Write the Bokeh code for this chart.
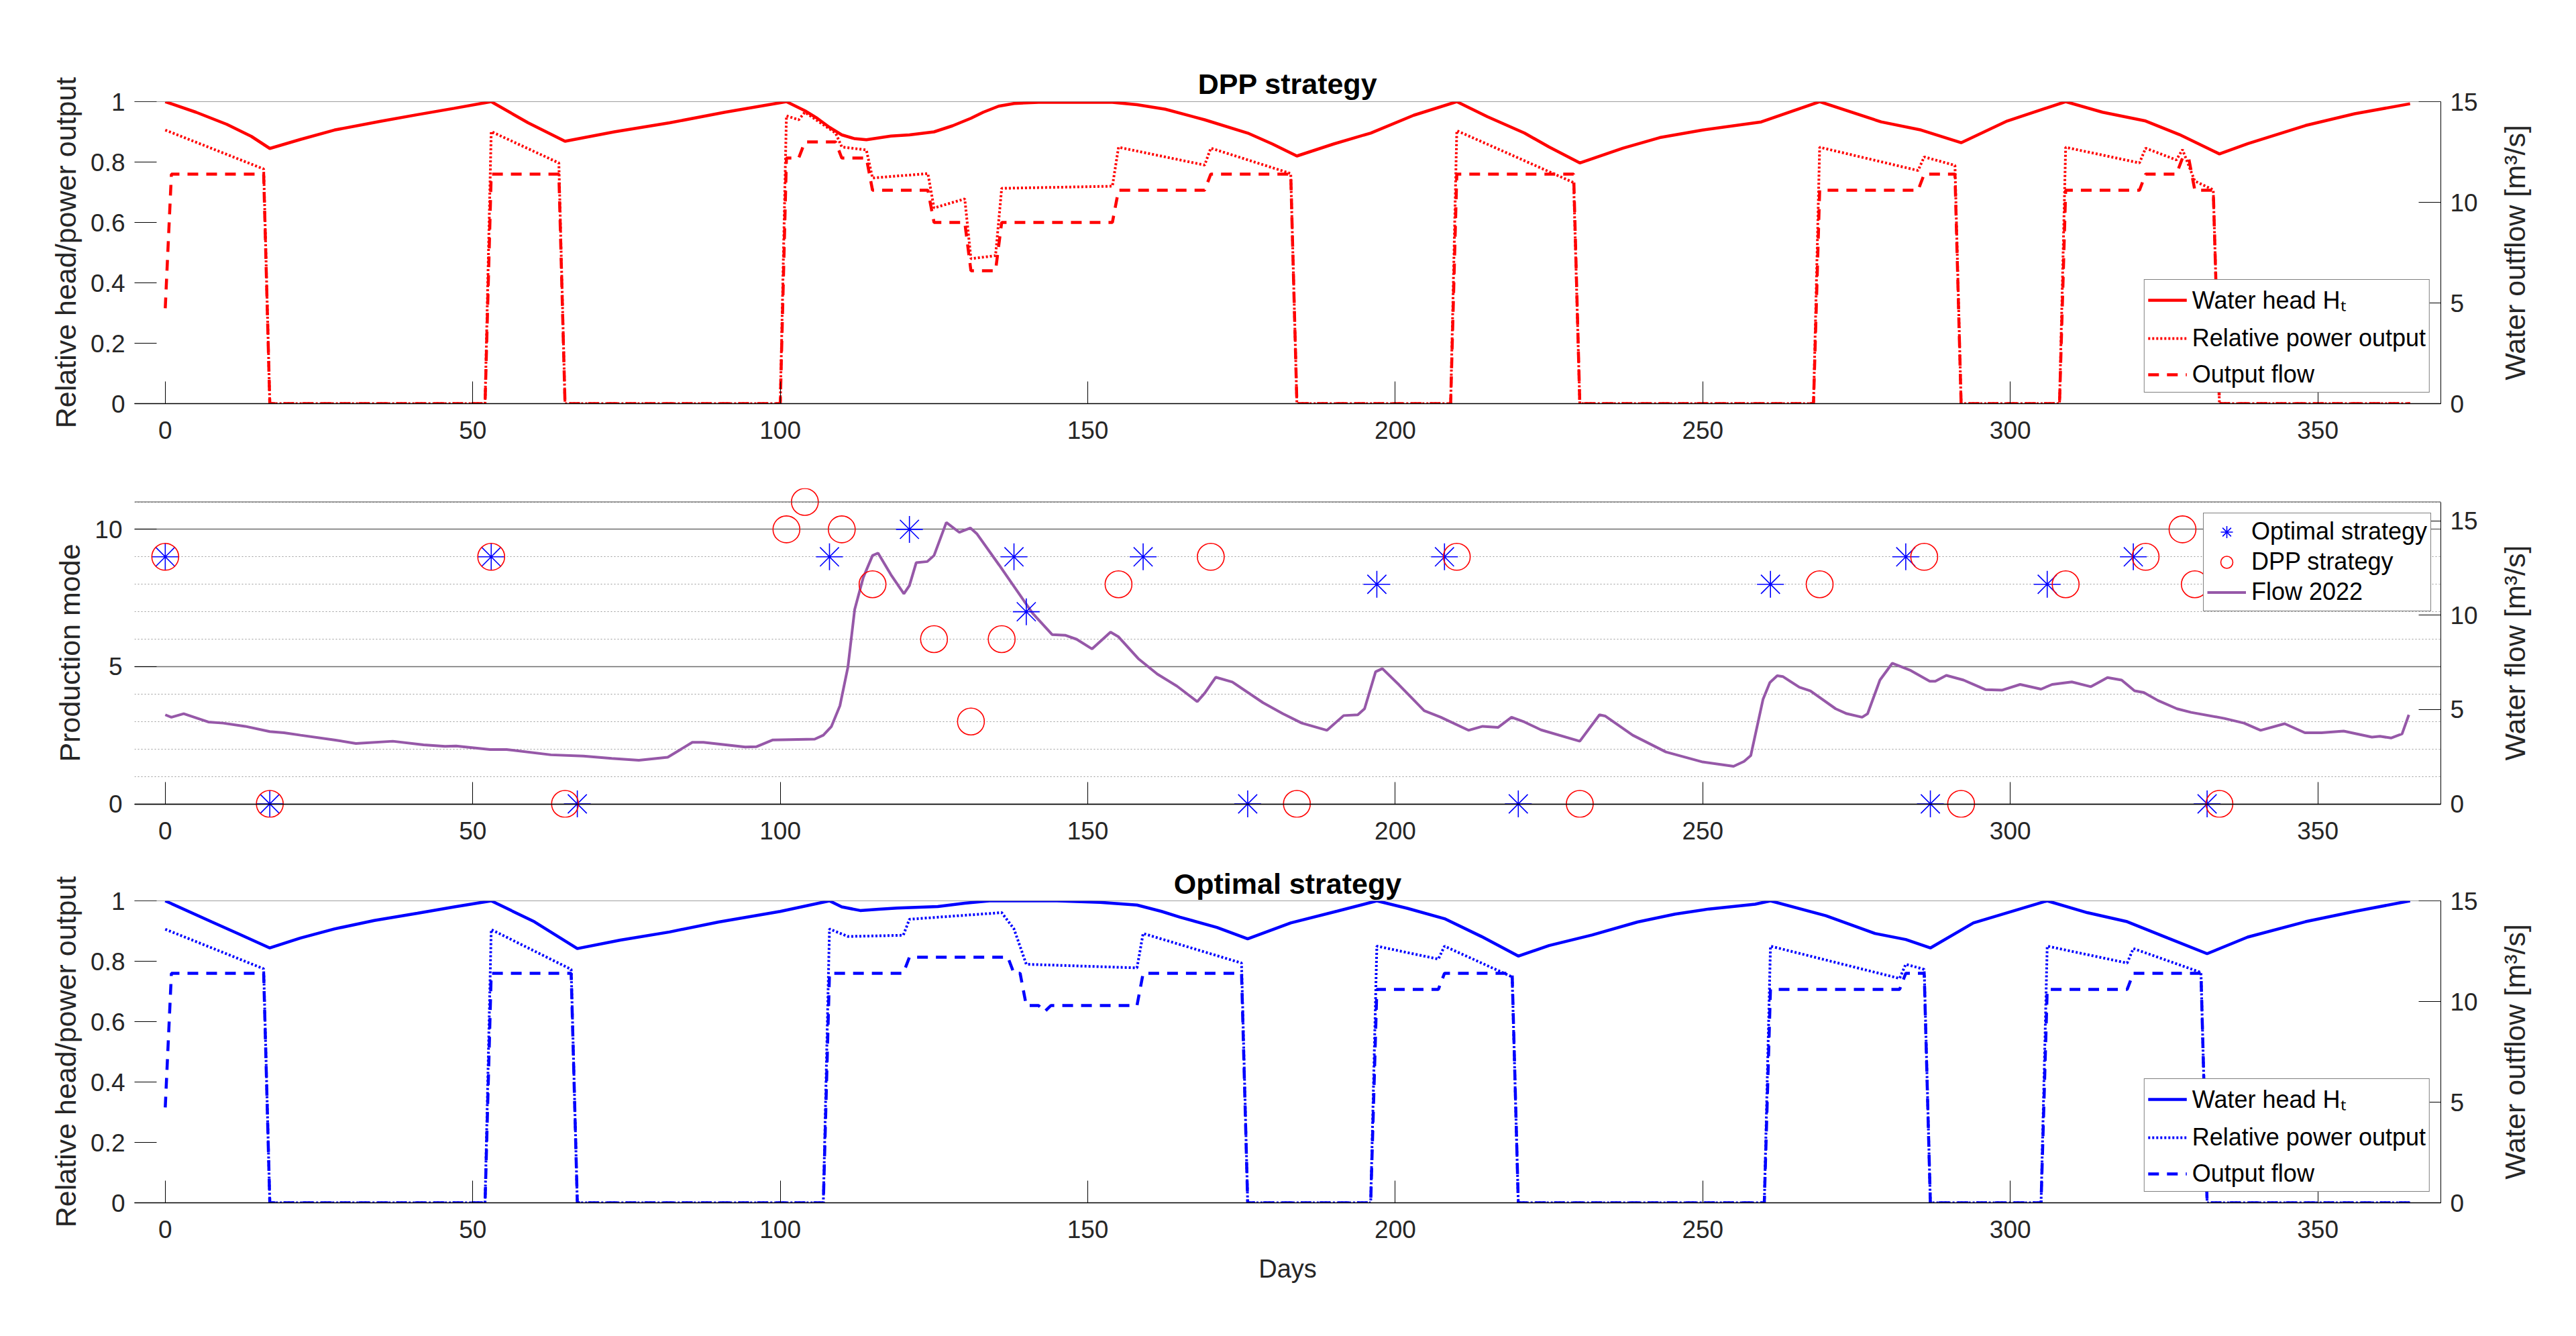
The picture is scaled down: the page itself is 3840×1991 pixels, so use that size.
import math
from bokeh.plotting import figure
from bokeh.models import (Range1d, LinearAxis, FixedTicker, NumeralTickFormatter,
                          Legend, LegendItem, Span, Title)
from bokeh.layouts import column, row
from bokeh.embed import file_html
from bokeh.resources import INLINE

FONT = "Liberation Sans"
TXT = "#262626"
RED = "#FF0000"
BLUE = "#0000FF"
PURPLE = "#9658A8"

# ---------------- axes / ticks ----------------
X_RANGE = (-5, 370)
X_TICKS = [0, 50, 100, 150, 200, 250, 300, 350]
REL_TICKS = [0, 0.2, 0.4, 0.6, 0.8, 1]
OUT_TICKS = [0, 5, 10, 15]
MODE_TICKS = [0, 5, 10]
MODE_MINOR = [0, 1, 2, 3, 4, 5, 6, 7, 8, 9, 10, 11]
FLOW_TICKS = [0, 5, 10, 15]

# ---------------- DPP strategy ----------------
dpp_head_day = [0, 5, 10, 14, 17, 22, 27.5, 35, 41, 47, 53, 59, 65, 73, 82, 91, 101,
                104, 106, 108, 110, 112, 114, 118, 121, 125, 128, 131, 133, 135.5, 138,
                142, 154, 158, 162.6, 169, 176, 180, 184, 190, 196, 203, 210, 215, 221,
                225, 230, 237, 243, 250, 259.5, 269, 279, 285.5, 292, 299.5, 309, 315,
                322, 327.5, 334, 338.6, 348, 356, 365]
dpp_head = [1.0, 0.965, 0.925, 0.885, 0.845, 0.875, 0.906, 0.935, 0.957, 0.978, 1.0, 0.93,
            0.869, 0.9, 0.93, 0.965, 1.0, 0.97, 0.945, 0.915, 0.89, 0.878, 0.874, 0.886,
            0.89, 0.9, 0.92, 0.945, 0.965, 0.985, 0.994, 0.998, 0.998, 0.99, 0.975, 0.94,
            0.896, 0.86, 0.82, 0.86, 0.896, 0.955, 1.0, 0.95, 0.896, 0.85, 0.797, 0.846,
            0.881, 0.906, 0.933, 1.0, 0.933, 0.906, 0.864, 0.936, 1.0, 0.965, 0.936,
            0.891, 0.827, 0.861, 0.921, 0.96, 0.993]

dpp_power_day = [0, 16, 17, 52, 53, 64, 65, 100, 101, 103, 104, 109, 110, 114, 115, 124,
                 125, 130, 131, 135, 136, 154, 155, 169, 170, 183, 184, 209, 210, 229, 230,
                 268, 269, 285, 286, 291, 292, 308, 309, 321, 322, 327, 328, 330, 333, 334,
                 365]
dpp_power = [0.906, 0.777, 0, 0, 0.901, 0.797, 0, 0, 0.953, 0.94, 0.965, 0.896, 0.85, 0.84,
             0.747, 0.762, 0.648, 0.678, 0.48, 0.49, 0.713, 0.72, 0.849, 0.79, 0.846, 0.762,
             0, 0, 0.904, 0.732, 0, 0, 0.849, 0.772, 0.817, 0.789, 0, 0, 0.849, 0.797,
             0.846, 0.807, 0.841, 0.737, 0.708, 0, 0]

dpp_flow_day = [0, 1, 16, 17, 52, 53, 64, 65, 100, 101, 103, 104, 109, 110, 114, 115, 124,
                125, 130, 131, 135, 136, 154, 155, 169, 170, 183, 184, 209, 210, 229, 230,
                268, 269, 285, 286, 291, 292, 308, 309, 321, 322, 327, 328, 329, 330, 333,
                334, 365]
dpp_flow = [4.74, 11.4, 11.4, 0, 0, 11.4, 11.4, 0, 0, 12.2, 12.2, 13.0, 13.0, 12.2, 12.2,
            10.6, 10.6, 9.0, 9.0, 6.6, 6.6, 9.0, 9.0, 10.6, 10.6, 11.4, 11.4, 0, 0, 11.4,
            11.4, 0, 0, 10.6, 10.6, 11.4, 11.4, 0, 0, 10.6, 10.6, 11.4, 11.4, 12.2, 12.2,
            10.6, 10.6, 0, 0]

# ---------------- Optimal strategy ----------------
opt_head_day = [0, 7.6, 12, 17, 22, 27.5, 34, 41, 47, 53, 60, 67, 74, 82, 90, 100, 108,
                110, 113, 116, 119, 125.6, 130, 134, 145, 152, 158, 162, 165, 171, 176,
                183, 190.6, 197, 202, 208, 214, 220, 225, 232, 239.4, 245.5, 251, 258.5,
                261, 270, 278, 283, 287, 294, 306, 312.5, 319, 325.6, 332, 338.6, 348, 356,
                365]
opt_head = [1.0, 0.93, 0.89, 0.844, 0.877, 0.907, 0.935, 0.959, 0.98, 1.0, 0.931, 0.842,
            0.87, 0.897, 0.93, 0.965, 1.0, 0.98, 0.968, 0.972, 0.976, 0.981, 0.992, 1.0,
            1.0, 0.995, 0.986, 0.965, 0.946, 0.912, 0.874, 0.927, 0.966, 1.0, 0.975,
            0.941, 0.882, 0.817, 0.852, 0.887, 0.93, 0.956, 0.973, 0.989, 1.0, 0.951,
            0.892, 0.872, 0.844, 0.927, 1.0, 0.961, 0.931, 0.877, 0.825, 0.88, 0.931,
            0.965, 1.0]

opt_power_day = [0, 16, 17, 52, 53, 66, 67, 107, 108, 111, 120, 121, 136, 138, 140, 158,
                 159, 175, 176, 196, 197, 207, 208, 219, 220, 260, 261, 282, 283, 286, 287,
                 305, 306, 319, 320, 331, 332, 365]
opt_power = [0.906, 0.775, 0, 0, 0.905, 0.773, 0, 0, 0.907, 0.882, 0.886, 0.939, 0.961,
             0.907, 0.79, 0.778, 0.892, 0.794, 0, 0, 0.85, 0.807, 0.85, 0.748, 0, 0, 0.85,
             0.743, 0.79, 0.773, 0, 0, 0.85, 0.794, 0.842, 0.763, 0, 0]

opt_flow_day = [0, 1, 16, 17, 52, 53, 66, 67, 107, 108, 120, 121, 137, 138, 139, 140, 142,
                143, 144, 158, 159, 175, 176, 196, 197, 207, 208, 219, 220, 260, 261, 282,
                283, 286, 287, 305, 306, 319, 320, 331, 332, 365]
opt_flow = [4.74, 11.4, 11.4, 0, 0, 11.4, 11.4, 0, 0, 11.4, 11.4, 12.2, 12.2, 11.4, 11.4,
            9.8, 9.8, 9.5, 9.8, 9.8, 11.4, 11.4, 0, 0, 10.6, 10.6, 11.4, 11.4, 0, 0, 10.6,
            10.6, 11.4, 11.4, 0, 0, 10.6, 10.6, 11.4, 11.4, 0, 0]

# ---------------- Production modes ----------------
mode_opt_day = [0, 17, 53, 67, 108, 121, 138, 140, 159, 176, 197, 208, 220, 261, 283, 287,
                306, 320, 332]
mode_opt = [9, 0, 9, 0, 9, 10, 9, 7, 9, 0, 8, 9, 0, 8, 9, 0, 8, 9, 0]
mode_dpp_day = [0, 17, 53, 65, 101, 104, 110, 115, 125, 131, 136, 155, 170, 184, 210, 230,
                269, 286, 292, 309, 322, 328, 330, 334]
mode_dpp = [9, 0, 9, 0, 10, 11, 10, 8, 6, 3, 6, 8, 9, 0, 9, 0, 8, 9, 0, 8, 9, 10, 8, 0]

# ---------------- Flow 2022 ----------------
flow_day = [0, 1, 3, 7, 9.4, 13, 17, 19.3, 22, 27.5, 31, 37, 42, 45.5, 47.3, 52.8, 55.5,
            62.7, 68, 72.6, 77, 81.7, 85.7, 87.5, 94.3, 96.1, 98.8, 105.6, 107, 108.3,
            109.7, 111, 112.1, 113.5, 115, 115.9, 118, 120.1, 121, 122.1, 123.9, 125, 127,
            129.1, 130.9, 132, 135.6, 138.3, 141, 144.2, 146.4, 148.2, 150.7, 153.7, 155,
            158.2, 161.3, 164.5, 167.8, 169, 170.8, 173.5, 178.5, 181.7, 184.8, 188.9,
            191.6, 193.9, 195, 196.8, 197.9, 200.6, 204.7, 207.4, 211.9, 214.2, 216.7,
            218.9, 221, 223.7, 230, 233.2, 234.1, 238.6, 244, 250, 255, 256.7, 257.8,
            259.8, 260.9, 262.1, 263, 265.7, 267.5, 271.6, 273.4, 275.9, 276.8, 278.8,
            280.8, 283.8, 286.9, 287.8, 289.6, 292.4, 296, 298.7, 301.6, 305, 306.8, 310,
            313.1, 315.8, 318.1, 320.2, 321.7, 324, 327.1, 329.4, 334.8, 338, 340.7, 344.6,
            347.9, 350.6, 354.2, 358.8, 360.1, 361.9, 363.7, 364.8]
flow_2022 = [4.72, 4.59, 4.78, 4.34, 4.28, 4.11, 3.83, 3.77, 3.64, 3.39, 3.20, 3.32, 3.13,
             3.05, 3.07, 2.88, 2.88, 2.60, 2.53, 2.41, 2.31, 2.47, 3.26, 3.26, 3.01, 3.03,
             3.39, 3.43, 3.64, 4.09, 5.2, 7.25, 10.3, 12.0, 13.16, 13.29, 12.14, 11.13,
             11.57, 12.78, 12.84, 13.16, 14.91, 14.39, 14.62, 14.30, 12.65, 11.38, 10.11,
             8.97, 8.93, 8.72, 8.21, 9.10, 8.85, 7.70, 6.88, 6.24, 5.42, 5.86, 6.71, 6.46,
             5.36, 4.78, 4.28, 3.90, 4.68, 4.72, 5.04, 7.00, 7.17, 6.31, 4.94, 4.59, 3.90,
             4.11, 4.05, 4.59, 4.34, 3.92, 3.32, 4.72, 4.66, 3.64, 2.75, 2.22, 1.99, 2.25,
             2.56, 5.55, 6.43, 6.79, 6.75, 6.18, 5.99, 5.04, 4.78, 4.59, 4.78, 6.56, 7.45,
             7.07, 6.50, 6.50, 6.81, 6.56, 6.05, 6.03, 6.33, 6.08, 6.33, 6.46, 6.21, 6.69,
             6.56, 5.99, 5.90, 5.48, 5.04, 4.85, 4.53, 4.28, 3.90, 4.25, 3.77, 3.77, 3.86,
             3.54, 3.58, 3.49, 3.71, 4.72]

FRAME_W = 3438
FRAME_H = 450
BL = 200
BR = 84


def style_axis(ax, ticks, label, fmt=None, line=True, minor=None):
    ax.ticker = FixedTicker(ticks=ticks, minor_ticks=minor or [])
    if fmt is not None:
        ax.formatter = fmt
    ax.axis_label = label
    ax.major_tick_in = 33
    ax.major_tick_out = 0
    ax.major_tick_line_color = "black"
    ax.major_tick_line_width = 1
    ax.minor_tick_line_color = None
    ax.major_label_text_font = FONT
    ax.major_label_text_font_size = "37px"
    ax.major_label_text_color = TXT
    ax.major_label_standoff = 14
    ax.axis_label_text_font = FONT
    ax.axis_label_text_font_size = "43px"
    ax.axis_label_text_font_style = "normal"
    ax.axis_label_text_color = TXT
    ax.axis_label_standoff = 10
    ax.axis_line_color = "black" if line else None
    ax.axis_line_width = 1


def style_legend(leg, spacing, glyph_h):
    leg.padding = 5
    leg.spacing = spacing
    leg.glyph_width = 58
    leg.glyph_height = glyph_h
    leg.label_height = 40
    leg.label_standoff = 8
    leg.label_text_font = FONT
    leg.label_text_font_size = "36px"
    leg.label_text_color = "black"
    leg.border_line_color = "black"
    leg.border_line_width = 1
    leg.background_fill_alpha = 1


def right_label_fig(text, top, frame_h, bottom):
    # a slim companion figure whose left-side title is the right axis label
    f = figure(frame_width=2, frame_height=frame_h, x_range=Range1d(0, 1),
               y_range=Range1d(0, 1), output_backend="svg", toolbar_location=None,
               x_axis_type=None, y_axis_type=None, min_border_left=0, min_border_right=0,
               min_border_top=top, min_border_bottom=bottom)
    f.outline_line_color = None
    f.grid.grid_line_color = None
    t = Title(text=text, align="center", text_font=FONT, text_font_size="43px",
              text_font_style="normal", text_color=TXT, standoff=0)
    f.add_layout(t, "left")
    return f


def base_fig(top, bottom, y_lo, y_hi, ry_lo, ry_hi, ry_top, frame_h, left_label,
             left_ticks, right_ticks, left_fmt=None, title=None, minor=None):
    p = figure(frame_width=FRAME_W, frame_height=frame_h,
               x_range=Range1d(*X_RANGE), y_range=Range1d(y_lo, y_hi),
               output_backend="svg", toolbar_location=None,
               min_border_left=BL, min_border_right=BR,
               min_border_top=top, min_border_bottom=bottom, title=title)
    p.extra_y_ranges = {"r": Range1d(ry_lo, ry_hi)}
    p.outline_line_color = None
    p.background_fill_color = "white"
    p.border_fill_color = "white"
    if title:
        p.title.text_font = FONT
        p.title.text_font_size = "43px"
        p.title.text_font_style = "bold"
        p.title.text_color = "black"
        p.title.align = "center"
        p.title.standoff = 6
    style_axis(p.xaxis[0], X_TICKS, None)
    p.xaxis[0].axis_line_width = 1.5
    p.xaxis[0].major_label_standoff = 26
    style_axis(p.yaxis[0], left_ticks, left_label, fmt=left_fmt, line=False, minor=minor)
    rax = LinearAxis(y_range_name="r", bounds=(0, ry_top))
    style_axis(rax, right_ticks, None)
    p.add_layout(rax, "right")
    p.xgrid.grid_line_color = None
    p.ygrid.grid_line_color = None
    return p


def strategy_panel(color, head_d, head, pow_d, pw, flow_d, fl, title, top, bottom):
    p = base_fig(top, bottom, 0, 1, 0, 15, 15, FRAME_H, "Relative head/power output",
                 REL_TICKS, OUT_TICKS, left_fmt=NumeralTickFormatter(format="0.[0]"),
                 title=title)
    p.add_layout(Span(location=1, dimension="width", line_color="#404040", line_width=1))
    r1 = p.line(head_d, head, line_color=color, line_width=4.5)
    r2 = p.line(pow_d, pw, line_color=color, line_width=4, line_dash="3 3")
    r3 = p.line(flow_d, fl, line_color=color, line_width=4.5, line_dash="16 12",
                y_range_name="r")
    leg = Legend(items=[LegendItem(label="Water head Hₜ", renderers=[r1]),
                        LegendItem(label="Relative power output", renderers=[r2]),
                        LegendItem(label="Output flow", renderers=[r3])],
                 location="bottom_right")
    leg.margin = 16
    style_legend(leg, 12, 40)
    p.add_layout(leg)
    return p


# ---------------- top panel ----------------
T1, B1 = 151, 86
p1 = strategy_panel(RED, dpp_head_day, dpp_head, dpp_power_day, dpp_power, dpp_flow_day,
                    dpp_flow, "DPP strategy", T1, B1)
l1 = right_label_fig("Water outflow [m³/s]", T1, FRAME_H, B1)

# ---------------- middle panel ----------------
PAD_PX = 20.5
MODE_MAX = 11
FLOW_MAX = 16
pad_l = PAD_PX * MODE_MAX / FRAME_H
pad_r = PAD_PX * FLOW_MAX / FRAME_H
MID_H = int(round(FRAME_H + 2 * PAD_PX))
T2, B2 = 40, 49
p2 = base_fig(T2, B2, -pad_l, MODE_MAX + pad_l, -pad_r, FLOW_MAX + pad_r, FLOW_MAX, MID_H,
              "Production mode", MODE_TICKS, FLOW_TICKS, minor=MODE_MINOR)
xa = p2.xaxis[0]
xa.fixed_location = 0
xa.major_label_text_color = None
xlab = LinearAxis()
style_axis(xlab, X_TICKS, None)
xlab.axis_line_color = None
xlab.major_tick_line_color = None
xlab.major_label_standoff = 6
p2.add_layout(xlab, "below")
p2.yaxis[0].bounds = (0, MODE_MAX)
mode_ticker = p2.yaxis[0].ticker
p2.ygrid.ticker = mode_ticker
p2.ygrid.grid_line_color = "#6e6e6e"
p2.ygrid.grid_line_width = 1.5
p2.ygrid.minor_grid_line_color = "#9a9a9a"
p2.ygrid.minor_grid_line_width = 1
p2.ygrid.minor_grid_line_dash = "2 3"
p2.add_layout(Span(location=MODE_MAX, dimension="width", line_color="#404040", line_width=1))

rf = p2.line(flow_day, flow_2022, line_color=PURPLE, line_width=4, y_range_name="r")
ro = p2.scatter(mode_opt_day, mode_opt, marker="asterisk", size=40, line_color=BLUE,
                line_width=1.6)
rd = p2.scatter(mode_dpp_day, mode_dpp, marker="circle", size=40, fill_color=None,
                line_color=RED, line_width=1.6)
leg2 = Legend(items=[LegendItem(label="Optimal strategy", renderers=[ro]),
                     LegendItem(label="DPP strategy", renderers=[rd]),
                     LegendItem(label="Flow 2022", renderers=[rf])],
              location=(FRAME_W - 17 - 337, MID_H - PAD_PX - 18 - 145))
style_legend(leg2, 0, 45)
p2.add_layout(leg2)
l2 = right_label_fig("Water flow [m³/s]", T2, MID_H, B2)

# ---------------- bottom panel ----------------
T3, B3 = 75, 145
p3 = strategy_panel(BLUE, opt_head_day, opt_head, opt_power_day, opt_power, opt_flow_day,
                    opt_flow, "Optimal strategy", T3, B3)
p3.title.standoff = 4
p3.xaxis[0].axis_label = "Days"
p3.xaxis[0].axis_label_text_font_size = "38px"
p3.xaxis[0].axis_label_standoff = 22
l3 = right_label_fig("Water outflow [m³/s]", T3, FRAME_H, B3)

layout = column(row(p1, l1), row(p2, l2), row(p3, l3))
open("out.html", "w").write(file_html(layout, INLINE))
